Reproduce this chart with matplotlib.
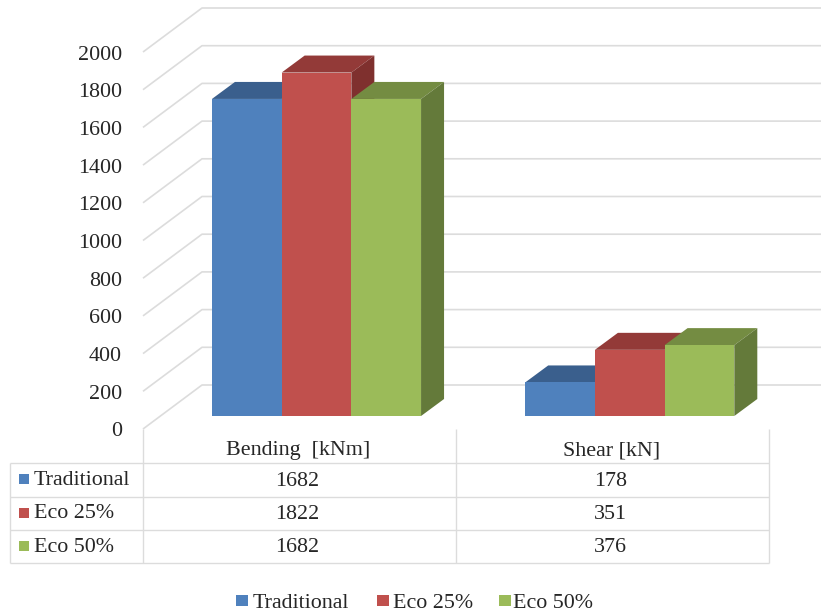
import matplotlib
matplotlib.use('Agg')
import matplotlib.pyplot as plt
from matplotlib.patches import Polygon, Rectangle
from matplotlib.transforms import Affine2D

plt.rcParams['font.family'] = ['Liberation Serif', 'DejaVu Serif']

# Data
categories = ['Bending  [kNm]', 'Shear [kN]']
series_names = ['Traditional', 'Eco 25%', 'Eco 50%']
traditional = [1682, 178]
eco_25 = [1822, 351]
eco_50 = [1682, 376]
y_ticks = [0, 200, 400, 600, 800, 1000, 1200, 1400, 1600, 1800, 2000]

front_colors = ['#4F81BD', '#C0504D', '#9BBB59']
top_colors = ['#3A5F8D', '#933A38', '#748C42']
side_colors = ['#335379', '#7F302E', '#647A3A']
grid_color = '#DCDCDC'
text_color = '#262626'

W, H = 821, 611
FONT = 15.8

# Layout in pixels, y measured from the top
BASE_Y = 416          # bars stand on this line
PX_PER_UNIT = 0.1885
CAT_X0 = 316.5        # centre of the first bar group
CAT_STEP = 313.25
BAR_PX = 69.7
DEPTH_X, DEPTH_Y = 23, 17
WALL_L, WALL_R = 143, 202
WALL_FRONT_Y, WALL_BACK_Y = 429, 385

fig = plt.figure(figsize=(W / 100, H / 100), dpi=100)
ax = fig.add_axes([0, 0, 1, 1])
ax.set_xlim((0 - CAT_X0) / CAT_STEP, (W - CAT_X0) / CAT_STEP)
ax.set_ylim((BASE_Y - H) / PX_PER_UNIT, BASE_Y / PX_PER_UNIT)
ax.axis('off')

# pixel coordinates for everything that isn't a bar
px = Affine2D().scale(1, -1).translate(0, H)


def line(xs, ys, z=1, lw=1.2):
    ax.plot(xs, ys, color=grid_color, lw=lw, transform=px, zorder=z,
            solid_capstyle='butt', clip_on=False)


# Gridlines on the walls and value labels
for v in y_ticks:
    dy = v * PX_PER_UNIT
    line([WALL_L, WALL_R, W], [WALL_FRONT_Y - dy, WALL_BACK_Y - dy, WALL_BACK_Y - dy])
    ax.text(122, WALL_FRONT_Y - dy + 3, str(v), transform=px, ha='right', va='center',
            fontsize=FONT, color=text_color)

# Bars with the oblique top and side faces
bar_w = BAR_PX / CAT_STEP
dx = DEPTH_X / CAT_STEP
dy = DEPTH_Y / PX_PER_UNIT
all_series = [traditional, eco_25, eco_50]
for s, values in enumerate(all_series):
    z = 3 + s
    for c, v in enumerate(values):
        left = c + (s - 1.5) * bar_w
        right = left + bar_w
        ax.add_patch(Polygon([(left, v), (right, v), (right + dx, v + dy), (left + dx, v + dy)],
                             facecolor=top_colors[s], edgecolor='none', zorder=z))
        ax.add_patch(Polygon([(right, 0), (right + dx, dy), (right + dx, v + dy), (right, v)],
                             facecolor=side_colors[s], edgecolor='none', zorder=z))
    ax.bar([c + (s - 1) * bar_w for c in range(len(values))], values, width=bar_w,
           color=front_colors[s], zorder=z + 0.5)

# Data table under the plot
col_x = [143, 456, 769]
row_y = [463, 497, 530, 563]
for y in row_y:
    line([10, col_x[-1]], [y, y], lw=1.0)
line([10, 10], [row_y[0], row_y[-1]], lw=1.0)
for x in col_x:
    line([x, x], [WALL_FRONT_Y, row_y[-1]], lw=1.0)

for c, name in enumerate(categories):
    cx = (col_x[c] + col_x[c + 1]) / 2
    ax.text(cx - 1, 451, name, transform=px, ha='center', va='center',
            fontsize=FONT, color=text_color)
    for s, values in enumerate(all_series):
        ax.text(cx - 2, (row_y[s] + row_y[s + 1]) / 2 + 1, str(values[c]), transform=px,
                ha='center', va='center', fontsize=FONT, color=text_color)

for s, name in enumerate(series_names):
    ym = (row_y[s] + row_y[s + 1]) / 2 - 1
    ax.add_patch(Rectangle((19, ym - 5), 10, 10, facecolor=front_colors[s],
                           edgecolor='none', transform=px))
    ax.text(34, ym + 1.5, name, transform=px, ha='left', va='center',
            fontsize=FONT, color=text_color)

# Legend at the bottom
legend_squares = [236, 377, 499]
legend_text = [253, 393, 513]
for s, name in enumerate(series_names):
    ax.add_patch(Rectangle((legend_squares[s], 595), 12, 11, facecolor=front_colors[s],
                           edgecolor='none', transform=px))
    ax.text(legend_text[s], 603, name, transform=px, ha='left', va='center',
            fontsize=FONT, color=text_color)

fig.savefig('out.png', dpi=100)
